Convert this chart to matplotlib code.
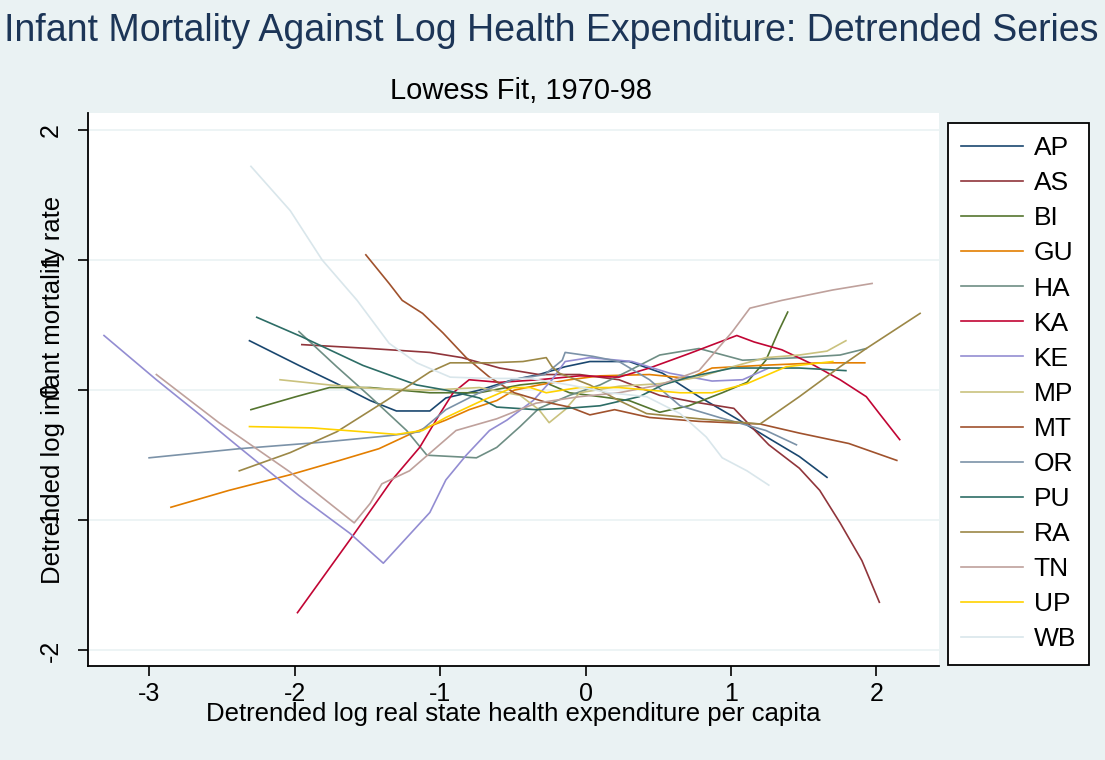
import matplotlib
matplotlib.use("Agg")
import matplotlib.pyplot as plt

plt.rcParams['font.family'] = ['Liberation Sans', 'DejaVu Sans']

# lowess curves (x: detrended log expenditure, y: detrended log IMR)
states = ["AP", "AS", "BI", "GU", "HA", "KA", "KE", "MP", "MT", "OR", "PU", "RA", "TN", "UP", "WB"]

ap_x = [-2.31, -1.97, -1.71, -1.48, -1.30, -1.07, -0.96, -0.73, -0.50, -0.32, -0.14, 0.03, 0.30, 0.53, 0.78, 1.04, 1.26, 1.47, 1.66]
ap_y = [0.38, 0.19, 0.05, -0.08, -0.16, -0.16, -0.06, 0.00, 0.08, 0.12, 0.18, 0.22, 0.22, 0.13, -0.05, -0.22, -0.37, -0.51, -0.67]

as_x = [-1.95, -1.48, -1.07, -0.85, -0.59, -0.32, -0.04, 0.23, 0.51, 0.74, 1.02, 1.13, 1.26, 1.47, 1.61, 1.75, 1.90, 2.02]
as_y = [0.35, 0.32, 0.29, 0.25, 0.17, 0.12, 0.12, 0.08, -0.04, -0.09, -0.14, -0.27, -0.42, -0.60, -0.77, -1.02, -1.31, -1.63]

bi_x = [-2.30, -1.99, -1.76, -1.48, -1.07, -0.73, -0.45, -0.28, -0.11, 0.10, 0.30, 0.51, 0.71, 0.94, 1.11, 1.24, 1.33, 1.39]
bi_y = [-0.15, -0.05, 0.02, 0.02, -0.02, -0.02, 0.04, 0.06, -0.02, -0.05, -0.08, -0.17, -0.12, -0.02, 0.06, 0.23, 0.46, 0.60]

gu_x = [-2.85, -2.45, -2.03, -1.69, -1.42, -1.19, -0.96, -0.80, -0.61, -0.49, -0.32, -0.11, 0.10, 0.44, 0.71, 0.87, 1.20, 1.61, 1.92]
gu_y = [-0.90, -0.77, -0.65, -0.54, -0.45, -0.33, -0.23, -0.15, -0.08, 0.00, 0.04, 0.08, 0.11, 0.12, 0.09, 0.17, 0.19, 0.21, 0.21]

ha_x = [-1.97, -1.71, -1.48, -1.23, -1.09, -0.75, -0.61, -0.45, -0.32, -0.11, 0.10, 0.30, 0.51, 0.78, 1.08, 1.47, 1.75, 1.93]
ha_y = [0.45, 0.18, -0.05, -0.31, -0.50, -0.52, -0.44, -0.28, -0.14, -0.04, 0.04, 0.15, 0.27, 0.32, 0.23, 0.25, 0.27, 0.32]

ka_x = [-1.98, -1.60, -1.33, -1.14, -1.00, -0.91, -0.80, -0.59, -0.32, -0.04, 0.23, 0.44, 0.71, 1.04, 1.16, 1.35, 1.54, 1.75, 1.93, 2.02, 2.16]
ka_y = [-1.71, -1.12, -0.69, -0.44, -0.18, -0.02, 0.08, 0.06, 0.08, 0.11, 0.10, 0.17, 0.28, 0.42, 0.37, 0.31, 0.21, 0.08, -0.05, -0.18, -0.38]

ke_x = [-3.31, -2.95, -2.65, -2.38, -1.97, -1.62, -1.39, -1.07, -0.96, -0.82, -0.66, -0.54, -0.36, -0.23, -0.14, 0.03, 0.32, 0.58, 0.87, 1.08, 1.26]
ke_y = [0.42, 0.08, -0.19, -0.44, -0.81, -1.10, -1.33, -0.94, -0.69, -0.50, -0.31, -0.23, -0.08, 0.08, 0.22, 0.25, 0.22, 0.13, 0.07, 0.08, 0.17]

mp_x = [-2.10, -1.76, -1.42, -1.07, -0.73, -0.45, -0.32, -0.25, -0.14, -0.04, 0.23, 0.51, 0.78, 1.01, 1.24, 1.47, 1.66, 1.79]
mp_y = [0.08, 0.04, 0.01, 0.00, 0.02, -0.04, -0.15, -0.25, -0.15, -0.02, 0.03, 0.05, 0.10, 0.18, 0.25, 0.27, 0.30, 0.38]

mt_x = [-1.51, -1.35, -1.26, -1.12, -0.98, -0.82, -0.66, -0.49, -0.28, -0.11, 0.03, 0.20, 0.44, 0.78, 1.20, 1.47, 1.81, 2.14]
mt_y = [1.04, 0.82, 0.69, 0.59, 0.44, 0.25, 0.10, -0.02, -0.09, -0.13, -0.19, -0.15, -0.21, -0.24, -0.26, -0.33, -0.41, -0.54]

or_x = [-3.00, -2.38, -1.81, -1.35, -1.14, -0.96, -0.73, -0.50, -0.28, -0.16, -0.14, 0.05, 0.23, 0.44, 0.65, 0.92, 1.24, 1.45]
or_y = [-0.52, -0.45, -0.40, -0.35, -0.32, -0.15, -0.02, 0.08, 0.12, 0.23, 0.29, 0.26, 0.22, 0.08, -0.12, -0.21, -0.31, -0.42]

pu_x = [-2.26, -1.95, -1.53, -1.16, -0.96, -0.73, -0.61, -0.34, -0.13, 0.10, 0.37, 0.53, 0.71, 1.01, 1.47, 1.79]
pu_y = [0.56, 0.41, 0.19, 0.04, 0.00, -0.06, -0.13, -0.15, -0.14, -0.12, -0.05, 0.04, 0.10, 0.17, 0.17, 0.15]

ra_x = [-2.38, -2.03, -1.71, -1.37, -1.07, -0.93, -0.66, -0.43, -0.27, -0.23, -0.18, 0.03, 0.23, 0.42, 0.78, 1.20, 1.47, 1.75, 1.93, 2.30]
ra_y = [-0.62, -0.48, -0.32, -0.08, 0.14, 0.21, 0.21, 0.22, 0.25, 0.18, 0.13, 0.04, -0.08, -0.18, -0.22, -0.26, -0.05, 0.18, 0.32, 0.59]

tn_x = [-2.95, -2.52, -2.03, -1.59, -1.48, -1.40, -1.21, -0.89, -0.61, -0.34, -0.04, 0.23, 0.51, 0.78, 1.01, 1.13, 1.35, 1.70, 1.97]
tn_y = [0.12, -0.25, -0.63, -1.02, -0.87, -0.72, -0.62, -0.31, -0.22, -0.10, -0.05, -0.02, 0.04, 0.15, 0.45, 0.63, 0.69, 0.77, 0.82]

up_x = [-2.31, -1.88, -1.53, -1.30, -1.12, -0.96, -0.73, -0.50, -0.38, -0.27, -0.16, -0.04, 0.23, 0.65, 0.87, 1.11, 1.38, 1.70]
up_y = [-0.28, -0.29, -0.32, -0.34, -0.31, -0.21, -0.09, 0.02, 0.02, -0.02, 0.00, 0.02, 0.02, -0.02, -0.02, 0.05, 0.18, 0.22]

wb_x = [-2.30, -2.03, -1.81, -1.57, -1.35, -1.16, -0.93, -0.66, -0.38, -0.11, 0.16, 0.42, 0.65, 0.83, 0.94, 1.11, 1.26]
wb_y = [1.72, 1.38, 1.00, 0.69, 0.36, 0.21, 0.10, 0.09, 0.09, 0.04, -0.02, -0.05, -0.18, -0.36, -0.52, -0.62, -0.73]

xs = [ap_x, as_x, bi_x, gu_x, ha_x, ka_x, ke_x, mp_x, mt_x, or_x, pu_x, ra_x, tn_x, up_x, wb_x]
ys = [ap_y, as_y, bi_y, gu_y, ha_y, ka_y, ke_y, mp_y, mt_y, or_y, pu_y, ra_y, tn_y, up_y, wb_y]

x_ticks = [-3, -2, -1, 0, 1, 2]
y_ticks = [-2, -1, 0, 1, 2]

# stata s2color palette
colors = ["#1a476f", "#90353b", "#55752f", "#e37e00", "#6e8e84", "#c10534", "#938dd2",
          "#cac27e", "#a0522d", "#7b92a8", "#2d6d66", "#9c8847", "#bfa19c", "#ffd200", "#d9e6eb"]

bg = "#eaf2f3"
W, H = 1105, 760

fig = plt.figure(figsize=(W / 100, H / 100), dpi=100, facecolor=bg)
ax = fig.add_axes([88 / W, 1 - 666 / H, 851 / W, 553 / H])
ax.set_facecolor("white")

for st, x, y, c in zip(states, xs, ys, colors):
    ax.plot(x, y, color=c, lw=1.2, label=st)

ax.set_xlim(-3.42, 2.43)
ax.set_ylim(-2.12, 2.13)
ax.set_xticks(x_ticks)
ax.set_xticklabels([str(t) for t in x_ticks])
ax.set_yticks(y_ticks)
ax.set_yticklabels([str(t) for t in y_ticks], rotation=90, va="center")
ax.grid(axis="y", color=bg, lw=1.2)
ax.set_axisbelow(True)

for s in ["top", "right"]:
    ax.spines[s].set_visible(False)
for s in ["left", "bottom"]:
    ax.spines[s].set_linewidth(1.3)
    ax.spines[s].set_color("black")

ax.tick_params(axis="both", length=7.2, width=1.2, labelsize=18)
ax.tick_params(axis="y", pad=11)
ax.tick_params(axis="x", pad=4)

ax.set_xlabel("Detrended log real state health expenditure per capita", fontsize=18.5)
ax.xaxis.set_label_coords(0.5, -0.066)
ax.set_ylabel("Detrended log infant mortality rate", fontsize=18.5)
ax.yaxis.set_label_coords(-0.027, 0.5)

fig.text(551 / W, 1 - 31 / H, "Infant Mortality Against Log Health Expenditure: Detrended Series",
         ha="center", va="center", fontsize=27, color="#1c3557")
fig.text(521 / W, 1 - 91 / H, "Lowess Fit, 1970-98", ha="center", va="center", fontsize=21)

leg = ax.legend(loc="upper left", bbox_to_anchor=(948 / W, 1 - 123 / H), bbox_transform=fig.transFigure,
                fontsize=19, frameon=True, fancybox=False, edgecolor="black", framealpha=1,
                handlelength=2.35, handletextpad=0.4, labelspacing=0.42, borderpad=0.5,
                borderaxespad=0)
leg.get_frame().set_linewidth(1.3)

fig.savefig("out.png", dpi=100, facecolor=bg)
